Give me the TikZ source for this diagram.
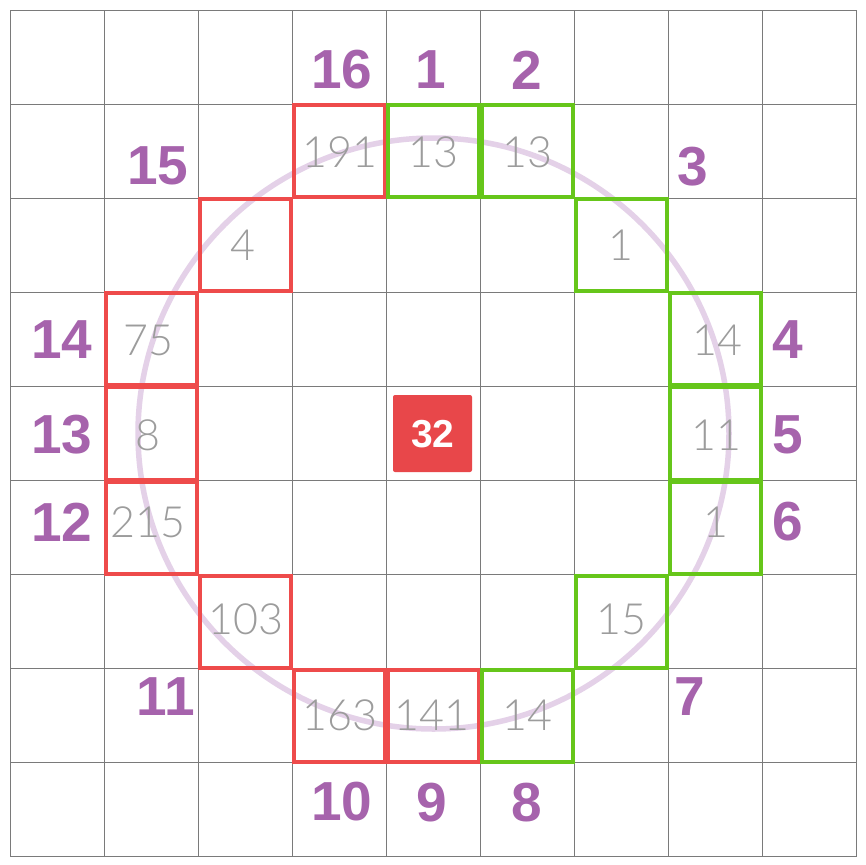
\documentclass[tikz,border=0pt]{standalone}
\usepackage{fontspec}
\setmainfont{Liberation Sans}
\newfontfamily\lightfont{Lato}[UprightFont=* Light]
\definecolor{gridgray}{HTML}{7A7A7A}
\definecolor{boxred}{HTML}{EE4B4B}
\definecolor{boxgreen}{HTML}{66C61A}
\definecolor{lblpurple}{HTML}{A663AC}
\definecolor{numgray}{HTML}{9C9C9C}
\definecolor{ringpurple}{HTML}{E4D1E8}
\definecolor{blobred}{HTML}{E8474A}
\tikzset{
  lbl/.style={inner sep=0pt, text=lblpurple, font=\fontsize{55}{55}\selectfont\bfseries},
  num/.style={inner sep=0pt, text=numgray, font=\fontsize{43}{43}\selectfont\lightfont},
  redbox/.style={draw=boxred, line width=4pt},
  greenbox/.style={draw=boxgreen, line width=4pt},
}
\begin{document}
\begin{tikzpicture}[x=1pt,y=-1pt]
\useasboundingbox (0,0) rectangle (865,865);
\fill[white] (0,0) rectangle (865,865);
\def\s{94.1}
% grid
\foreach \k in {0,...,9}{
  \draw[gridgray, line width=0.9pt] ({10+\s*\k},10) -- ({10+\s*\k},857);
  \draw[gridgray, line width=0.9pt] (10,{10+\s*\k}) -- (857,{10+\s*\k});
}
% ring
\draw[ringpurple, line width=5.5pt] (433.5,433.5) circle (295.5);
% boxes: col,row,style
\foreach \c/\r/\st in {3/1/redbox,4/1/greenbox,5/1/greenbox,2/2/redbox,6/2/greenbox,
  1/3/redbox,7/3/greenbox,1/4/redbox,7/4/greenbox,1/5/redbox,7/5/greenbox,
  2/6/redbox,6/6/greenbox,3/7/redbox,4/7/redbox,5/7/greenbox}{
  \draw[\st] ({10+\s*\c+1.5},{10+\s*\r+1}) rectangle ({10+\s*(\c+1)-1.5},{10+\s*(\r+1)-1});
}
% cell numbers
\node[num] (n16) at (340,152) {191};
\node[num] (n1) at (433,152) {13};
\node[num] (n2) at (527,152) {13};
\node[num] (n15) at (243,245) {4};
\node[num] (n3) at (621,245) {1};
\node[num] (n14) at (148,340) {75};
\node[num] (n4) at (717,340) {14};
\node[num] (n13) at (148,435) {8};
\node[num] (n5) at (716,435) {11};
\node[num] (n12) at (148,522) {215};
\node[num] (n6) at (716,522) {1};
\node[num] (n11) at (246,619) {103};
\node[num] (n7) at (621,619) {15};
\node[num] (n10) at (340,715) {163};
\node[num] (n9) at (432,715) {141};
\node[num] (n8) at (527,715) {14};
% center blob
\fill[blobred, rounded corners=2pt] (393,395) rectangle (472,472);
\node[inner sep=0pt, text=white, font=\fontsize{39}{39}\selectfont\bfseries] (center) at (433,434) {32};
% labels
\node[lbl] (l16) at (342,70) {16};
\node[lbl] (l1) at (431,70) {1};
\node[lbl] (l2) at (527,70) {2};
\node[lbl] (l3) at (693,167) {3};
\node[lbl] (l15) at (158,166) {15};
\node[lbl] (l14) at (62,340) {14};
\node[lbl] (l4) at (788,340) {4};
\node[lbl] (l13) at (62,435) {13};
\node[lbl] (l5) at (788,435) {5};
\node[lbl] (l12) at (62,522) {12};
\node[lbl] (l6) at (788,522) {6};
\node[lbl] (l11) at (166,697) {11};
\node[lbl] (l7) at (690,697) {7};
\node[lbl] (l10) at (342,802) {10};
\node[lbl] (l9) at (432,803) {9};
\node[lbl] (l8) at (527,803) {8};
\end{tikzpicture}
\end{document}
